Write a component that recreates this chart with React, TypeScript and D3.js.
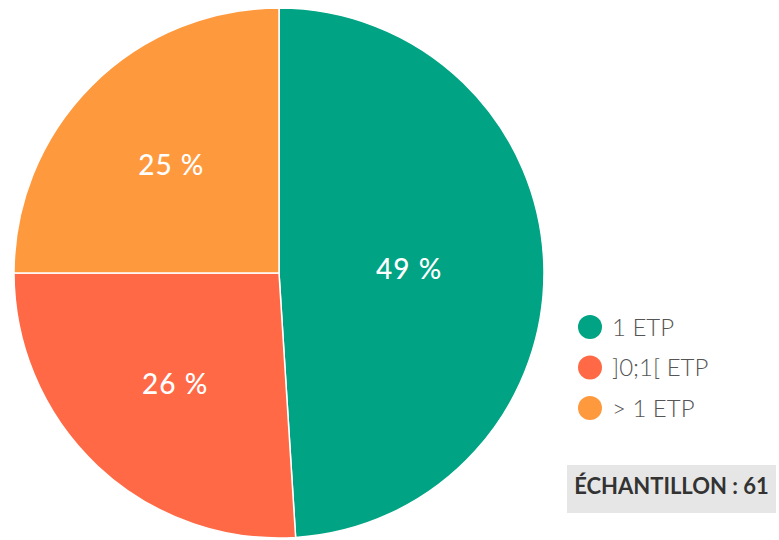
import React from "react";
import * as d3 from "d3";

const categories = ["1 ETP", "]0;1[ ETP", "> 1 ETP"];
const values = [49, 26, 25];
const colors = ["#00a383", "#ff6946", "#ff993d"];
const sampleSize = 61;

export default function App() {
  const width = 779;
  const height = 540;
  const cx = 279;
  const cy = 273;
  const radius = 265;

  const pie = d3.pie<number>().sort(null).value((d) => d);
  const arcs = pie(values);
  const arc = d3.arc<d3.PieArcDatum<number>>().innerRadius(0).outerRadius(radius);

  // label halfway between the slice's geometric centroid and 0.55 r
  const labelPos = (a: d3.PieArcDatum<number>) => {
    const half = (a.endAngle - a.startAngle) / 2;
    const centroid = (2 * radius * Math.sin(half)) / (3 * half);
    const dist = (centroid + 0.55 * radius) / 2;
    const mid = (a.startAngle + a.endAngle) / 2;
    return [dist * Math.sin(mid), -dist * Math.cos(mid)];
  };

  const legendY = d3.scalePoint<string>().domain(categories).range([327, 408]);

  return (
    <svg
      width={width}
      height={height}
      style={{ position: "absolute", left: 0, top: 0, fontFamily: "Lato, sans-serif" }}
    >
      <rect width={width} height={height} fill="#fff" />
      <g transform={`translate(${cx},${cy})`}>
        {arcs.map((a, i) => (
          <path key={i} d={arc(a) || ""} fill={colors[i]} stroke="#fff" strokeWidth={1.5} />
        ))}
        {arcs.map((a, i) => {
          const [x, y] = labelPos(a);
          return (
            <text
              key={i}
              x={x}
              y={y + 10}
              textAnchor="middle"
              fill="#fff"
              fontSize={28}
              fontWeight={500}
              letterSpacing={1}
            >
              {a.data} %
            </text>
          );
        })}
      </g>
      <g>
        {categories.map((c, i) => (
          <g key={c} transform={`translate(590,${legendY(c)})`}>
            <circle r={12} fill={colors[i]} />
            <text x={22} y={8.5} fontSize={24} fontWeight={300} fill="#555">
              {c}
            </text>
          </g>
        ))}
      </g>
      <g transform="translate(567,465)">
        <rect width={209} height={48} fill="#e6e6e6" />
        <text
          x={104.5}
          y={29}
          textAnchor="middle"
          fontSize={22}
          fontWeight={700}
          fill="#333"
        >
          ÉCHANTILLON : {sampleSize}
        </text>
      </g>
    </svg>
  );
}
